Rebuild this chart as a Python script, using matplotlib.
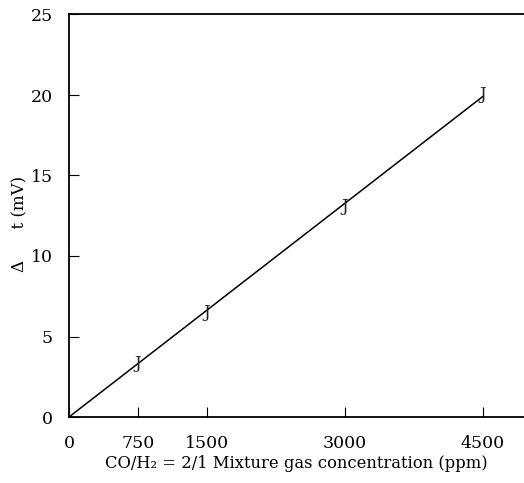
import matplotlib
matplotlib.use("Agg")
import matplotlib.pyplot as plt

plt.rcParams['font.family'] = ['DejaVu Serif', 'Liberation Serif']

# data
conc = [750, 1500, 3000, 4500]
dvout = [3.35, 6.5, 13.1, 20.05]
fit_x = [0, 4500]
fit_y = [0, 19.9]
xticks = [0, 750, 1500, 3000, 4500]
yticks = [0, 5, 10, 15, 20, 25]

fig = plt.figure(figsize=(5.24, 4.83), dpi=100)
ax = fig.add_axes([69/524, (483-417)/483, 1 - 69/524, (417-14.5)/483])

ax.plot(fit_x, fit_y, color='black', lw=1.1)
for x, y in zip(conc, dvout):
    ax.text(x, y, "J", ha='center', va='center', fontsize=12, color='#222222')

ax.set_xlim(0, 4950)
ax.set_ylim(0, 25)
ax.set_xticks(xticks)
ax.set_yticks(yticks)
ax.set_xticklabels([str(v) for v in xticks])
ax.set_yticklabels([str(v) for v in yticks])
ax.tick_params(axis='both', direction='in', length=7, width=0.8, labelsize=12.5,
               colors='black')
ax.tick_params(axis='x', pad=13)
ax.tick_params(axis='y', pad=11.5)

ax.spines['right'].set_visible(False)
for s in ['left', 'bottom', 'top']:
    ax.spines[s].set_linewidth(1.3)

ax.set_xlabel("CO/H\u2082 = 2/1 Mixture gas concentration (ppm)", fontsize=11.8, labelpad=2)
ax.set_ylabel("\u0394      t (mV)", fontsize=12, labelpad=1.5, y=0.48)

fig.savefig("out.png", dpi=100)
